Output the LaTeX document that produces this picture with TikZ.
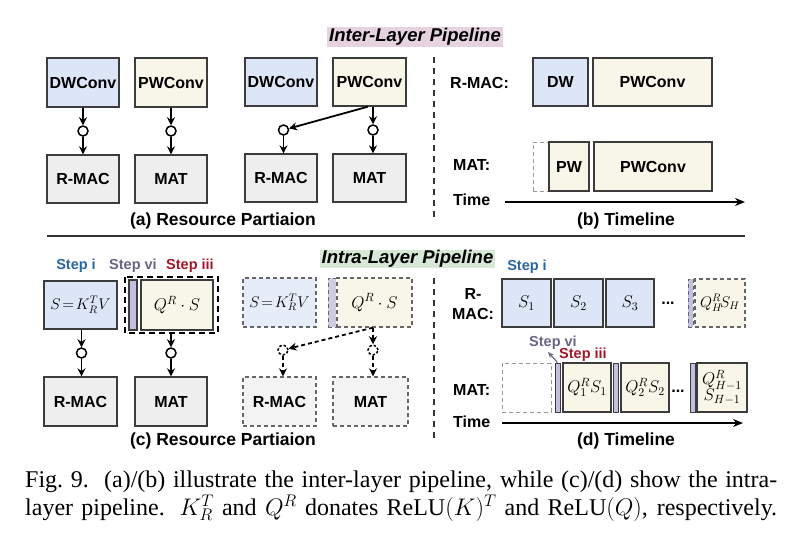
\RequirePackage{fix-cm}
\documentclass[tikz,border=0pt]{standalone}
\usepackage[no-math]{fontspec}
\setmainfont{Liberation Serif}
\setsansfont{Liberation Sans}
\usetikzlibrary{arrows.meta}
\definecolor{bluef}{HTML}{DCE6F7}
\definecolor{bluefl}{HTML}{E6EDF9}
\definecolor{yelf}{HTML}{F8F6E8}
\definecolor{grayf}{HTML}{EEEEEE}
\definecolor{grayfl}{HTML}{F3F3F3}
\definecolor{purf}{HTML}{C3BFE0}
\definecolor{purfl}{HTML}{CFCBE0}
\definecolor{bord}{HTML}{3C3C3C}
\definecolor{dbord}{HTML}{666666}
\definecolor{pinkbg}{HTML}{E6D3DF}
\definecolor{greenbg}{HTML}{D8E8D6}
\definecolor{stepblue}{HTML}{2A66A3}
\definecolor{steppur}{HTML}{6B6585}
\definecolor{stepred}{HTML}{A3172A}
\definecolor{rulec}{HTML}{333333}
\newcommand\lbfont{\fontsize{16}{19}\selectfont\sffamily\bfseries}
\newcommand\subcapfont{\fontsize{17.5}{20}\selectfont\sffamily\bfseries}
\newcommand\ttlfont{\fontsize{18.5}{20}\selectfont\sffamily\bfseries\itshape}
\newcommand\stepfont{\fontsize{14.5}{16}\selectfont\sffamily\bfseries}
\newcommand\mfont{\fontsize{17}{19}\selectfont}
\newcommand\msfont{\fontsize{15.5}{18}\selectfont}
\newcommand\captfont{\fontsize{24}{28}\selectfont\rmfamily}
\begin{document}
\begin{tikzpicture}[x=1pt,y=-1pt,
  box/.style={draw=bord, line width=1.3pt, inner sep=0pt, font=\lbfont, align=center},
  dbox/.style={box, draw=dbord, dash pattern=on 4pt off 3pt},
  jn/.style={circle, draw=black, line width=1.5pt, fill=white, minimum size=10pt, inner sep=0pt},
  djn/.style={jn, dash pattern=on 2.5pt off 2pt},
  arr/.style={-{Stealth[length=8pt,width=8pt]}, line width=1.8pt},
  darr/.style={arr, dash pattern=on 4pt off 3pt},
  tarr/.style={-{Stealth[length=10pt,width=8pt]}, line width=1.4pt},
  vdash/.style={line width=1.6pt, draw=rulec, dash pattern=on 6pt off 5pt},
  lbl/.style={font=\lbfont, inner sep=0pt},
  subcap/.style={font=\subcapfont, inner sep=0pt},
  stepl/.style={font=\stepfont, inner sep=0pt}]
\useasboundingbox (0,0) rectangle (800,547);
\fill[white] (0,0) rectangle (800,547);

% ---------------- (a) ----------------
\node[box, fill=bluef, minimum width=72pt, minimum height=49pt] (dw1) at (83,82.5) {DWConv};
\node[box, fill=yelf, minimum width=72pt, minimum height=49pt] (pw1) at (171,82.5) {PWConv};
\node[box, fill=grayf, minimum width=72pt, minimum height=48pt] (rm1) at (83,179) {R-MAC};
\node[box, fill=grayf, minimum width=72pt, minimum height=48pt] (mt1) at (171,179) {MAT};
\node[jn] (c1) at (83,131) {};
\node[jn] (c2) at (171,131) {};
\draw[arr] (dw1.south) -- (c1);
\draw[arr] (c1) -- (rm1.north);
\draw[arr] (pw1.south) -- (c2);
\draw[arr] (c2) -- (mt1.north);

\node[box, fill=bluef, minimum width=72pt, minimum height=48pt] (dw2) at (281,82) {DWConv};
\node[box, fill=yelf, minimum width=73pt, minimum height=48pt] (pw2) at (369.5,82) {PWConv};
\node[box, fill=grayf, minimum width=72pt, minimum height=48pt] (rm2) at (281,178) {R-MAC};
\node[box, fill=grayf, minimum width=73pt, minimum height=48pt] (mt2) at (369.5,178) {MAT};
\node[jn] (c3) at (283.5,130) {};
\node[jn] (c4) at (373,130) {};
\coordinate (p2s) at ([xshift=-1.5pt]pw2.south);
\draw[arr] (p2s) -- (c3);
\draw[arr] (c3) -- (c3 |- rm2.north);
\draw[arr] (c4 |- pw2.south) -- (c4);
\draw[arr] (c4) -- (c4 |- mt2.north);

\node[subcap] (capa) at (223,221) {(a) Resource Partiaion};
\node[fill=pinkbg, inner xsep=2pt, inner ysep=1pt, font=\ttlfont] (inter) at (415,37) {Inter-Layer Pipeline};

% rule and separators
\coordinate (rl) at (47,236);
\coordinate (rr) at (745,236);
\draw[line width=2.5pt, draw=rulec] (rl) -- (rr);
\coordinate (v1t) at (434,57);
\coordinate (v1b) at (434,218);
\draw[vdash] (v1t) -- (v1b);
\coordinate (v2t) at (434,278);
\coordinate (v2b) at (434,438);
\draw[vdash] (v2t) -- (v2b);

% ---------------- (b) ----------------
\node[lbl, anchor=west] (rmacb) at (450,83) {R-MAC:};
\node[box, fill=bluef, minimum width=55pt, minimum height=48pt] (dwb) at (560.5,82) {DW};
\node[box, fill=yelf, minimum width=119pt, minimum height=48pt] (pwcb) at (652.5,82) {PWConv};
\node[lbl, anchor=west] (matb) at (453,165) {MAT:};
\node[dbox, draw=gray!80, fill=white, line width=1pt, minimum width=16pt, minimum height=49pt] (gapb) at (541,166.5) {};
\node[box, fill=yelf, minimum width=40pt, minimum height=49pt] (pwb) at (569,166.5) {PW};
\node[box, fill=yelf, minimum width=118pt, minimum height=49pt] (pwcb2) at (653,166.5) {PWConv};
\node[lbl, anchor=west] (timeb) at (453,200) {Time};
\coordinate (tb0) at (505,202);
\coordinate (tb1) at (745,202);
\draw[tarr] (tb0) -- (tb1);
\node[subcap] (capb) at (626,221) {(b) Timeline};

% ---------------- (c) ----------------
\node[fill=greenbg, inner xsep=2pt, inner ysep=0.5pt, font=\ttlfont] (intra) at (407.5,259) {Intra-Layer Pipeline};
\node[stepl, text=stepblue] (si) at (76,266) {Step i};
\node[stepl, text=steppur] (svi) at (133,266) {Step vi};
\node[stepl, text=stepred] (siii) at (190,266) {Step iii};

\node[box, fill=bluef, minimum width=73pt, minimum height=48pt, font=\msfont] (sk1) at (80.5,305) {$S\!=\!K_R^TV$};
\draw[line width=2pt, dash pattern=on 6pt off 4pt] (125,277) rectangle (218,333);
\node[box, fill=purf, minimum width=8pt, minimum height=50pt] (bar1) at (133,305) {};
\node[box, fill=yelf, minimum width=72pt, minimum height=50pt, font=\mfont] (qs1) at (177,305) {$Q^R\cdot S$};
\node[box, fill=grayf, minimum width=73pt, minimum height=49pt] (rm3) at (80.5,401.5) {R-MAC};
\node[box, fill=grayf, minimum width=72pt, minimum height=49pt] (mt3) at (171,401.5) {MAT};
\node[jn] (c5) at (81.5,353) {};
\node[jn] (c6) at (171,353) {};
\draw[arr] (c5 |- sk1.south) -- (c5);
\draw[arr] (c5) -- (c5 |- rm3.north);
\draw[arr] (c6 |- 0,333) -- (c6);
\draw[arr] (c6) -- (mt3.north);

\node[dbox, fill=bluefl, minimum width=73pt, minimum height=49pt, font=\msfont] (sk2) at (279.5,302.5) {$S\!=\!K_R^TV$};
\node[dbox, fill=purfl, line width=1pt, minimum width=8pt, minimum height=49pt] (bar2) at (332,302.5) {};
\node[dbox, fill=yelf, minimum width=75pt, minimum height=49pt, font=\mfont] (qs2) at (374.5,302.5) {$Q^R\cdot S$};
\node[dbox, fill=grayfl, minimum width=73pt, minimum height=49pt] (rm4) at (279.5,401.5) {R-MAC};
\node[dbox, fill=grayfl, minimum width=75pt, minimum height=49pt] (mt4) at (370.5,401.5) {MAT};
\node[djn] (c7) at (283,350) {};
\node[djn] (c8) at (373,350) {};
\draw[darr] (c8 |- qs2.south) -- (c7);
\draw[darr] (c8 |- qs2.south) -- (c8);
\draw[darr] (c7) -- (c7 |- rm4.north);
\draw[darr] (c8) -- (c8 |- mt4.north);
\node[subcap] (capc) at (223,441) {(c) Resource Partiaion};

% ---------------- (d) ----------------
\node[stepl, text=stepblue] (sid) at (527,267) {Step i};
\node[lbl, align=center] (rmacd) at (473,304.5) {R-\\[1pt]MAC:};
\node[box, fill=bluef, minimum width=49pt, minimum height=48pt, font=\mfont] (s1) at (526.5,303) {$S_1$};
\node[box, fill=bluef, minimum width=49pt, minimum height=48pt, font=\mfont] (s2) at (578.5,303) {$S_2$};
\node[box, fill=bluef, minimum width=48pt, minimum height=48pt, font=\mfont] (s3) at (630,303) {$S_3$};
\node[lbl, anchor=base] (dots1) at (668,304) {...};
\node[dbox, fill=purf, line width=1pt, minimum width=5pt, minimum height=48pt] (barh) at (690.5,303) {};
\node[dbox, fill=yelf, minimum width=50pt, minimum height=48pt, font=\msfont] (qh) at (720,303) {$Q_H^R\!S_H$};

\node[stepl, text=steppur] (svid) at (553,343) {Step vi};
\node[stepl, text=stepred] (siiid) at (583,355) {Step iii};

\node[lbl, anchor=west] (matd) at (453,390) {MAT:};
\node[dbox, draw=gray!80, fill=white, line width=1pt, minimum width=49pt, minimum height=49pt] (e0) at (526.5,387.5) {};
\node[box, fill=purf, line width=1pt, minimum width=5pt, minimum height=49pt] (b1) at (557.5,387.5) {};
\node[box, fill=yelf, minimum width=48pt, minimum height=49pt, font=\mfont] (q1) at (587,387.5) {$Q_1^RS_1$};
\node[box, fill=purf, line width=1pt, minimum width=5pt, minimum height=49pt] (b2) at (615.5,387.5) {};
\node[box, fill=yelf, minimum width=48pt, minimum height=49pt, font=\mfont] (q2) at (645,387.5) {$Q_2^RS_2$};
\node[lbl, anchor=base] (dots2) at (678,392) {...};
\node[box, fill=purf, line width=1pt, minimum width=5pt, minimum height=49pt] (b3) at (692.5,387.5) {};
\node[box, fill=yelf, minimum width=50pt, minimum height=49pt, font=\mfont] (qh1) at (722,387.5) {$Q_{H-1}^R$\\[-3pt]$S_{H-1}$};

\coordinate (sva) at (548,352);
\draw[-{Stealth[length=6pt,width=5pt]}, line width=1.2pt, draw=steppur] (b1.north) -- (sva);

\node[lbl, anchor=west] (timed) at (453,422) {Time};
\coordinate (td0) at (502,423);
\coordinate (td1) at (743,423);
\draw[tarr] (td0) -- (td1);
\node[subcap] (capd) at (626,441) {(d) Timeline};

% ---------------- caption ----------------
\node[anchor=base west, inner sep=0pt, font=\captfont] (cap1) at (25,487)
  {\makebox[752pt][s]{Fig.~9.\ \ (a)/(b) illustrate the inter-layer pipeline, while (c)/(d) show the intra-}};
\node[anchor=base west, inner sep=0pt, font=\captfont] (cap2) at (25,515)
  {\makebox[752pt][s]{layer pipeline. $K_R^T$ and $Q^R$ donates ReLU$(K)^T$ and ReLU$(Q)$, respectively.}};
\end{tikzpicture}
\end{document}
